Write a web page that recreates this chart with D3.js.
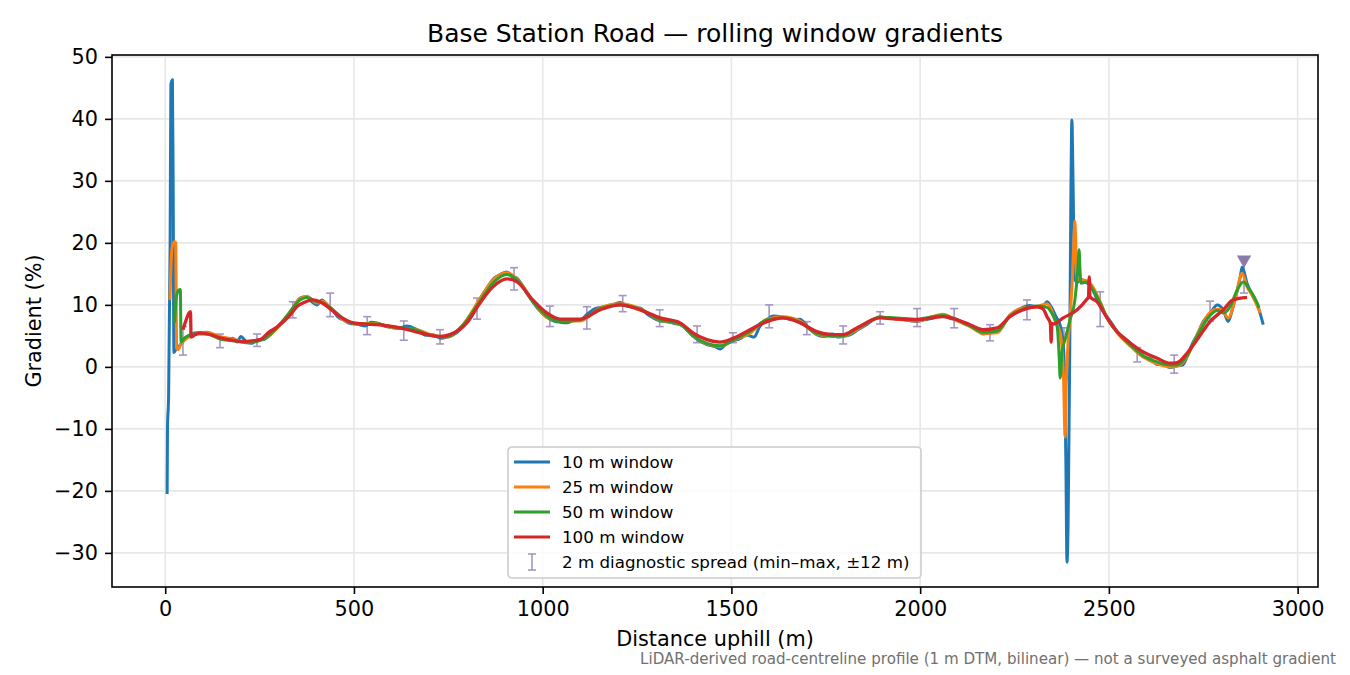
<!DOCTYPE html>
<html>
<head>
<meta charset="utf-8">
<script src="https://cdn.jsdelivr.net/npm/d3@7"></script>
<style>
  body { margin: 0; background: #fff; }
  svg { display: block; font-family: "DejaVu Sans", sans-serif; }
</style>
</head>
<body>
<svg id="chart" width="1350" height="675"></svg>
<script>
// distance uphill (m), gradient (%)
const win10 = [
  [5,-20.5],[6,-10],[9,-4.5],[13,20],[15,45.5],[19,46.3],[21,30],[23,2.3],[30,3.0],[39,3.5],
  [50,4.3],[57,4.8],[70,5.3],[84,5.5],[100,5.4],[110,5.6],[125,5.2],[145,4.8],[160,4.5],[179,4.6],
  [190,4.0],[200,4.9],[216,4.0],[230,3.8],[243,4.3],[260,4.4],[277,5.1],[300,6.6],[322,8.0],[340,9.6],
  [357,11.1],[375,11.3],[390,10.4],[402,10.0],[415,10.8],[430,9.9],[444,9.2],[458,8.0],[471,7.6],[490,7.0],
  [508,6.9],[530,6.6],[545,7.2],[561,7.1],[580,6.6],[596,6.4],[620,6.2],[640,6.6],[667,6.0],[690,5.1],
  [709,5.2],[730,4.6],[747,4.8],[770,5.4],[790,6.6],[810,8.0],[834,11.0],[850,12.5],[868,14.1],[890,15.0],
  [905,15.3],[920,14.6],[932,14.3],[950,12.8],[974,10.5],[990,9.2],[1011,8.0],[1030,7.4],[1046,7.2],[1065,7.1],
  [1080,7.5],[1099,7.6],[1120,8.6],[1135,9.3],[1152,9.6],[1170,9.8],[1190,10.1],[1205,10.4],[1220,9.9],[1240,9.6],
  [1258,9.5],[1275,8.6],[1290,8.0],[1311,7.4],[1330,7.3],[1350,7.0],[1364,6.8],[1380,6.2],[1398,5.0],[1415,4.2],
  [1435,3.6],[1455,3.3],[1470,2.9],[1485,3.6],[1504,4.2],[1525,4.6],[1540,5.2],[1549,5.0],[1560,4.8],[1575,6.5],
  [1594,7.6],[1610,8.2],[1636,8.0],[1660,7.6],[1682,7.7],[1700,6.6],[1726,5.2],[1745,4.9],[1769,5.3],[1780,4.8],
  [1795,4.9],[1815,5.2],[1833,5.9],[1860,6.9],[1894,8.1],[1915,7.8],[1938,7.8],[1960,7.6],[1991,7.3],[2010,7.6],
  [2030,7.8],[2060,8.4],[2080,7.8],[2098,7.6],[2115,7.0],[2132,6.6],[2150,6.0],[2167,5.3],[2185,5.5],[2204,5.6],
  [2220,6.8],[2238,8.3],[2255,9.0],[2272,9.6],[2290,9.9],[2309,9.7],[2325,9.8],[2336,10.5],[2347,9.7],[2360,8.1],
  [2372,6.5],[2380,3.0],[2386,-15],[2389,-31.5],[2392,-25],[2396,0],[2399,25],[2402,39.8],[2405,30],[2409,14.5],
  [2415,13.6],[2425,14.0],[2432,14.0],[2440,13.6],[2450,13.2],[2462,11.8],[2469,10.8],[2482,9.2],[2495,8.1],[2510,6.8],
  [2522,5.6],[2540,4.7],[2556,3.8],[2575,2.4],[2591,1.6],[2610,1.3],[2628,0.4],[2645,0.4],[2662,-0.1],[2681,0.2],
  [2695,0.3],[2707,1.6],[2720,3.6],[2734,5.2],[2750,7.3],[2768,8.6],[2787,10.0],[2803,9.2],[2816,7.3],[2829,9.7],
  [2848,14.5],[2853,16.1],[2866,13.5],[2882,11.3],[2895,9.7],[2909,6.8]
];

const win25 = [
  [12.5,10.8],[15,16],[19,19.5],[25,20.2],[28,20.0],[30,3.0],[35,2.8],[40,3.5],[57,4.6],[84,5.4],
  [110,5.6],[145,4.9],[179,4.5],[216,3.9],[243,4.2],[277,5.1],[322,8.1],[357,11.0],[375,11.4],[402,10.3],
  [415,10.6],[444,9.2],[471,7.6],[508,7.0],[561,7.0],[596,6.4],[667,6.0],[709,5.1],[747,4.8],[790,6.9],
  [834,11.0],[868,14.0],[905,15.2],[932,14.2],[974,10.6],[1011,8.0],[1046,7.4],[1099,7.4],[1152,9.5],[1205,10.2],
  [1258,9.4],[1311,7.5],[1364,6.9],[1398,5.0],[1435,3.7],[1470,3.3],[1504,4.3],[1549,5.4],[1594,7.7],[1636,8.1],
  [1682,7.4],[1726,5.3],[1769,4.9],[1795,4.9],[1833,6.0],[1894,8.0],[1938,7.7],[1991,7.4],[2060,8.5],[2098,7.4],
  [2132,6.5],[2167,5.4],[2204,5.5],[2238,8.4],[2272,9.5],[2309,9.7],[2336,10.2],[2344,9.7],[2360,7.0],[2371,5.5],
  [2380,-2],[2384,-11.3],[2387,-3],[2391,3],[2397,8.0],[2405,16],[2410,23.5],[2413,18],[2416,14.0],[2432,14.0],
  [2450,13.5],[2477,10.5],[2495,7.9],[2522,5.5],[2556,3.4],[2591,1.6],[2628,0.5],[2662,0.0],[2681,0.1],[2707,1.6],
  [2734,5.2],[2768,8.8],[2787,9.3],[2800,9.2],[2816,7.9],[2834,10.8],[2853,15.1],[2866,12.9],[2882,11.3],[2901,8.7]
];

const win50 = [
  [25,7.1],[30,11.5],[36,12.4],[40,12.5],[42,4.0],[50,4.6],[60,5.0],[84,5.3],[110,5.3],[145,4.5],
  [179,4.2],[216,3.9],[243,4.1],[277,5.2],[322,8.2],[357,10.8],[375,11.2],[402,10.5],[415,10.4],[444,9.2],
  [471,7.8],[508,6.9],[561,6.9],[596,6.5],[667,5.9],[709,5.0],[747,4.9],[790,6.8],[834,10.6],[868,13.5],
  [905,14.9],[932,14.0],[974,10.5],[1011,8.2],[1046,7.3],[1099,7.6],[1152,9.4],[1205,10.0],[1258,9.3],[1311,7.6],
  [1364,6.9],[1398,5.0],[1435,3.8],[1470,3.4],[1504,4.3],[1549,5.7],[1594,7.6],[1636,7.9],[1682,7.2],[1726,5.4],
  [1769,5.0],[1795,5.0],[1833,6.2],[1894,8.0],[1938,7.9],[1991,7.7],[2060,8.3],[2098,7.6],[2132,6.6],[2167,5.6],
  [2204,5.8],[2238,8.2],[2272,9.3],[2309,9.8],[2336,9.6],[2350,8.5],[2363,6.5],[2368,2.0],[2371,-1.8],[2376,2.5],
  [2384,4.4],[2397,7.6],[2410,10.8],[2418,16.0],[2421,18.9],[2424,15.0],[2426,13.5],[2442,13.7],[2458,12.4],[2477,10.3],
  [2495,7.9],[2522,5.6],[2556,3.6],[2591,1.8],[2628,0.8],[2662,0.3],[2681,0.3],[2707,1.8],[2734,5.0],[2768,8.3],
  [2787,9.1],[2803,8.7],[2821,9.7],[2840,12.4],[2856,13.7],[2874,12.4],[2893,10.3],[2898,9.5]
];

const win100 = [
  [47,6.0],[55,7.5],[62,8.6],[67,8.9],[68.5,4.8],[80,5.2],[92,5.5],[120,5.2],[145,4.7],[175,4.3],
  [206,4.1],[230,4.2],[251,4.4],[275,5.6],[296,6.4],[330,8.3],[350,9.8],[365,10.3],[391,10.8],[410,10.5],
  [428,9.8],[463,8.1],[498,7.1],[530,6.9],[561,6.8],[622,6.3],[675,5.5],[728,4.9],[754,5.2],[799,7.1],
  [834,10.3],[868,12.9],[905,14.2],[932,13.7],[974,10.8],[1011,8.7],[1046,7.7],[1099,7.7],[1152,9.2],[1205,10.0],
  [1258,9.2],[1311,7.9],[1364,7.1],[1398,5.5],[1435,4.4],[1470,4.0],[1504,4.6],[1549,6.0],[1594,7.3],[1636,7.9],
  [1682,7.1],[1726,5.7],[1769,5.2],[1795,5.2],[1833,6.3],[1894,7.9],[1938,7.7],[1991,7.6],[2060,8.1],[2098,7.6],
  [2132,6.8],[2167,6.0],[2204,6.3],[2238,8.1],[2272,9.2],[2309,9.7],[2325,9.4],[2336,8.1],[2345,7.0],[2347,4.0],
  [2349,7.0],[2352,6.9],[2379,7.9],[2416,9.2],[2440,10.8],[2446,11.3],[2448,14.5],[2450,11.3],[2469,10.5],[2495,7.9],
  [2522,5.7],[2556,3.9],[2591,2.4],[2628,1.4],[2662,0.6],[2681,0.7],[2707,2.2],[2734,4.4],[2768,7.3],[2803,9.2],
  [2829,10.8],[2866,11.2]
];

// 2 m diagnostic spread: position, min, max
const spreadX = [47,145,243,338,437,535,632,728,826,924,1019,1117,1212,1310,1409,1504,1600,1700,1796,1894,1992,2090,2185,2283,2381,2477,2575,2673,2768,2858];
const spreadMin = [1.9,3.1,3.3,7.9,8.1,5.2,4.3,3.7,7.7,12.4,6.5,6.1,8.9,6.5,3.9,3.9,6.3,5.2,3.7,6.9,6.5,6.3,4.2,7.6,0.4,6.5,0.8,-1.0,7.4,11.9];
const spreadMax = [6.5,5.3,5.3,10.5,11.9,8.1,7.4,6.0,11.1,16.0,9.8,9.7,11.5,9.2,6.6,5.5,10.0,7.3,6.6,8.9,9.4,9.4,6.8,10.8,6.3,12.1,3.1,1.9,10.6,17.3];
const peakMark = [2858, 17.3];

const seriesNames = ["10 m window", "25 m window", "50 m window", "100 m window"];
const seriesColors = ["#1f77b4", "#ff7f0e", "#2ca02c", "#d62728"];
const xTicks = [0, 500, 1000, 1500, 2000, 2500, 3000];
const yTicks = [-30, -20, -10, 0, 10, 20, 30, 40, 50];

const margin = { left: 112, right: 1318, top: 55, bottom: 587 };
const svg = d3.select("#chart");

let x = d3.scaleLinear().domain([-141, 3054]).range([margin.left, margin.right]);
let y = d3.scaleLinear().domain([-35.5, 50.3]).range([margin.bottom, margin.top]);

svg.append("rect").attr("width", 1350).attr("height", 675).attr("fill", "#fff");

// grid
let grid = svg.append("g");
grid.selectAll("line.gx").data(xTicks).enter().append("line")
  .attr("x1", d => x(d)).attr("x2", d => x(d))
  .attr("y1", margin.top).attr("y2", margin.bottom)
  .attr("stroke", "#e7e7e7").attr("stroke-width", 1.6);
grid.selectAll("line.gy").data(yTicks).enter().append("line")
  .attr("y1", d => y(d)).attr("y2", d => y(d))
  .attr("x1", margin.left).attr("x2", margin.right)
  .attr("stroke", "#e7e7e7").attr("stroke-width", 1.6);

let plot = svg.append("g");

// error bars under the lines
let barColor = "#a597c2";
let bars = plot.selectAll("g.bar").data(spreadX).enter().append("g");
bars.append("line")
  .attr("x1", d => x(d)).attr("x2", d => x(d))
  .attr("y1", (d, i) => y(spreadMin[i])).attr("y2", (d, i) => y(spreadMax[i]))
  .attr("stroke", barColor).attr("stroke-width", 1.6);
bars.append("line")
  .attr("x1", d => x(d) - 4).attr("x2", d => x(d) + 4)
  .attr("y1", (d, i) => y(spreadMin[i])).attr("y2", (d, i) => y(spreadMin[i]))
  .attr("stroke", barColor).attr("stroke-width", 1.6);
bars.append("line")
  .attr("x1", d => x(d) - 4).attr("x2", d => x(d) + 4)
  .attr("y1", (d, i) => y(spreadMax[i])).attr("y2", (d, i) => y(spreadMax[i]))
  .attr("stroke", barColor).attr("stroke-width", 1.6);

let line = d3.line().curve(d3.curveMonotoneX).x(d => x(d[0])).y(d => y(d[1]));
let allSeries = [win10, win25, win50, win100];
let widths = [3, 3, 3, 3.3];
allSeries.forEach((s, i) => {
  plot.append("path")
    .datum(s)
    .attr("d", line)
    .attr("fill", "none")
    .attr("stroke", seriesColors[i])
    .attr("stroke-width", widths[i])
    .attr("stroke-linejoin", "round")
    .attr("stroke-linecap", "butt");
});

// peak marker
let tri = d3.symbol().type(d3.symbolTriangle).size(90);
plot.append("path")
  .attr("d", tri)
  .attr("transform", `translate(${x(peakMark[0])},${y(peakMark[1])}) rotate(180)`)
  .attr("fill", "#8b7bab");

// axes
let xAxis = d3.axisBottom(x).tickValues(xTicks).tickSize(7).tickPadding(7)
  .tickFormat(d3.format("d"));
let yAxis = d3.axisLeft(y).tickValues(yTicks).tickSize(7).tickPadding(7)
  .tickFormat(d => d < 0 ? "\u2212" + Math.abs(d) : d);

let gx = svg.append("g").attr("transform", `translate(0,${margin.bottom})`).call(xAxis);
let gy = svg.append("g").attr("transform", `translate(${margin.left},0)`).call(yAxis);
[gx, gy].forEach(g => {
  g.select(".domain").remove();
  g.selectAll("line").attr("stroke", "#000").attr("stroke-width", 1.6);
  g.selectAll("text").attr("font-family", "DejaVu Sans").attr("font-size", "20.8px").attr("fill", "#000");
});

// frame
svg.append("rect")
  .attr("x", margin.left).attr("y", margin.top)
  .attr("width", margin.right - margin.left).attr("height", margin.bottom - margin.top)
  .attr("fill", "none").attr("stroke", "#000").attr("stroke-width", 1.6);

// titles
svg.append("text").attr("x", (margin.left + margin.right) / 2).attr("y", 42)
  .attr("text-anchor", "middle").attr("font-size", "25px")
  .text("Base Station Road \u2014 rolling window gradients");
svg.append("text").attr("x", (margin.left + margin.right) / 2).attr("y", 646)
  .attr("text-anchor", "middle").attr("font-size", "20.8px")
  .text("Distance uphill (m)");
svg.append("text").attr("transform", `translate(41,${(margin.top + margin.bottom) / 2}) rotate(-90)`)
  .attr("text-anchor", "middle").attr("font-size", "20.8px")
  .text("Gradient (%)");
svg.append("text").attr("x", 1336).attr("y", 664)
  .attr("text-anchor", "end").attr("font-size", "15.1px").attr("fill", "#707070")
  .text("LiDAR-derived road-centreline profile (1 m DTM, bilinear) \u2014 not a surveyed asphalt gradient");

// legend
let lg = svg.append("g").attr("transform", "translate(508,447)");
lg.append("rect").attr("x", 0).attr("y", 0).attr("width", 413).attr("height", 131)
  .attr("rx", 4).attr("fill", "#fff").attr("fill-opacity", 0.8)
  .attr("stroke", "#cccccc").attr("stroke-width", 1.6);
let rows = seriesNames.concat(["2 m diagnostic spread (min\u2013max, \u00b112 m)"]);
rows.forEach((name, i) => {
  let cy = 15 + i * 25;
  if (i < 4) {
    lg.append("line").attr("x1", 6).attr("x2", 42).attr("y1", cy).attr("y2", cy)
      .attr("stroke", seriesColors[i]).attr("stroke-width", 3);
  } else {
    lg.append("line").attr("x1", 24).attr("x2", 24).attr("y1", cy - 8).attr("y2", cy + 8)
      .attr("stroke", barColor).attr("stroke-width", 1.6);
    lg.append("line").attr("x1", 20).attr("x2", 28).attr("y1", cy - 8).attr("y2", cy - 8)
      .attr("stroke", barColor).attr("stroke-width", 1.6);
    lg.append("line").attr("x1", 20).attr("x2", 28).attr("y1", cy + 8).attr("y2", cy + 8)
      .attr("stroke", barColor).attr("stroke-width", 1.6);
  }
  lg.append("text").attr("x", 54).attr("y", cy + 6)
    .attr("font-size", "16.7px").attr("fill", "#000").text(name);
});
</script>
</body>
</html>
